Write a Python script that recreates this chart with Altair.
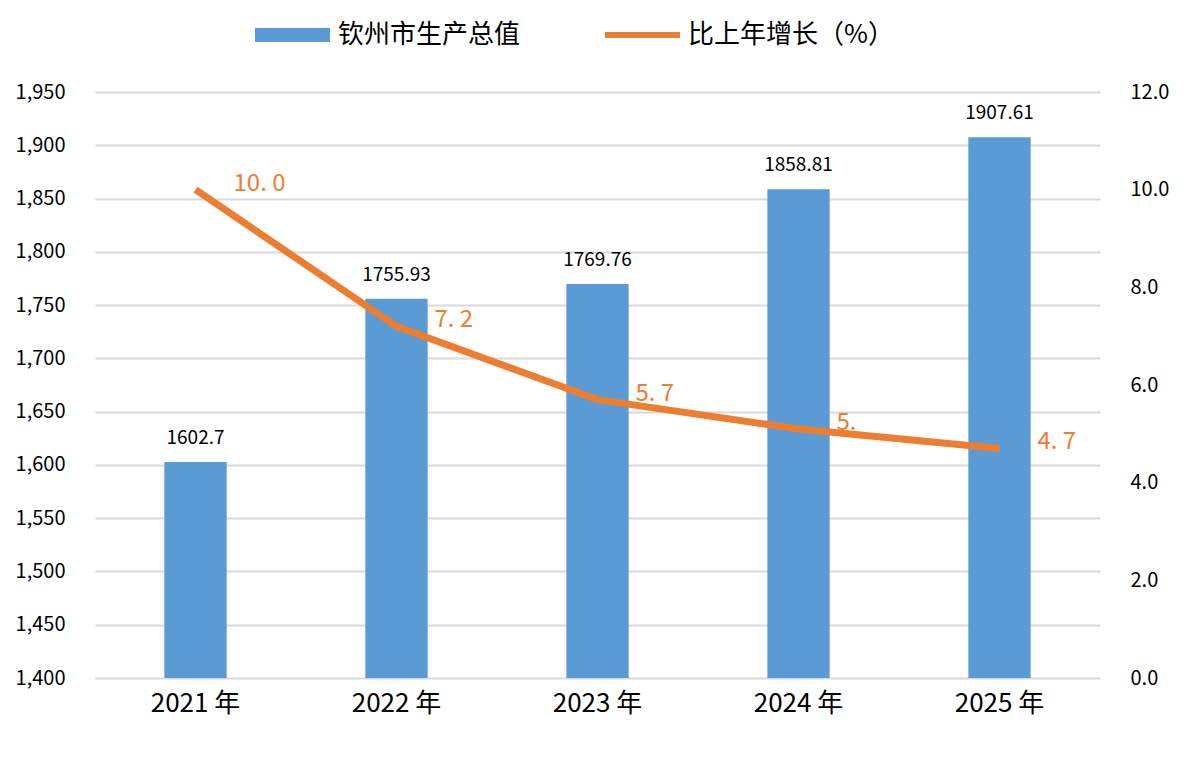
import altair as alt
import pandas as pd

years = ["2021 年", "2022 年", "2023 年", "2024 年", "2025 年"]
gdp = [1602.7, 1755.93, 1769.76, 1858.81, 1907.61]
gdp_labels = ["1602.7", "1755.93", "1769.76", "1858.81", "1907.61"]
growth = [10.0, 7.2, 5.7, 5.1, 4.7]
growth_labels = ["10. 0", "7. 2", "5. 7", "5.", "4. 7"]

FONT = "Noto Sans CJK SC"
BLUE = "#5b9bd5"
ORANGE = "#ed7d31"

df = pd.DataFrame({"year": years, "gdp": gdp, "gdp_label": gdp_labels,
                   "growth": growth, "growth_label": growth_labels})

x = alt.X("year:N", title=None, sort=years,
          scale=alt.Scale(paddingInner=0.69, paddingOuter=0.345),
          axis=alt.Axis(labelAngle=0, labelFont=FONT, labelFontSize=26, labelColor="#000",
                        ticks=False, domainColor="#d9d9d9", labelPadding=12))

base = alt.Chart(df)

yl = alt.Y("gdp:Q", title=None,
           scale=alt.Scale(domain=[1400, 1950], nice=False, zero=False),
           axis=alt.Axis(values=list(range(1400, 1951, 50)), labelFont=FONT, labelFontSize=20,
                         labelColor="#000", ticks=False, domain=False, gridColor="#d9d9d9",
                         gridWidth=2, labelPadding=30))
bars = base.mark_bar(color=BLUE, clip=True).encode(x=x, y=yl)
bar_text = base.mark_text(font=FONT, fontSize=19, color="#000", baseline="bottom", dy=-14).encode(
    x=x, y=yl, text="gdp_label:N")

yr = alt.Y("growth:Q", title=None, scale=alt.Scale(domain=[0, 12], nice=False),
           axis=alt.Axis(orient="right", values=[0, 2, 4, 6, 8, 10, 12], format=".1f",
                         labelFont=FONT, labelFontSize=20, labelColor="#000", ticks=False,
                         domain=False, grid=False, labelPadding=30))
line = base.mark_line(color=ORANGE, strokeWidth=7).encode(x=x, y=yr)
line_text = base.mark_text(font=FONT, fontSize=24, color=ORANGE, align="left", dx=38, dy=-6).encode(
    x=x, y=yr, text="growth_label:N")

left = alt.layer(bars, bar_text)
right = alt.layer(line, line_text)

legend_rect = alt.Chart(pd.DataFrame({"a": [0]})).mark_rect(color=BLUE).encode(
    x=alt.value(160), x2=alt.value(235), y=alt.value(-64), y2=alt.value(-50))
legend_t1 = alt.Chart(pd.DataFrame({"t": ["钦州市生产总值"]})).mark_text(
    font=FONT, fontSize=26, align="left", baseline="middle").encode(
    x=alt.value(243), y=alt.value(-57), text="t:N")
legend_line = alt.Chart(pd.DataFrame({"a": [0]})).mark_rule(color=ORANGE, strokeWidth=6).encode(
    x=alt.value(510), x2=alt.value(585), y=alt.value(-57))
legend_t2 = alt.Chart(pd.DataFrame({"t": ["比上年增长（%）"]})).mark_text(
    font=FONT, fontSize=26, align="left", baseline="middle").encode(
    x=alt.value(593), y=alt.value(-57), text="t:N")

chart = alt.layer(left, right).resolve_scale(y="independent")
chart = alt.layer(chart, legend_rect, legend_t1, legend_line, legend_t2).properties(
    width=1005, height=586,
    autosize=alt.AutoSizeParams(type="none"),
    padding={"left": 87, "top": 84, "right": 80, "bottom": 80},
).configure_view(stroke=None)

chart.save("out.html", embed_options={"renderer": "svg", "actions": False})
